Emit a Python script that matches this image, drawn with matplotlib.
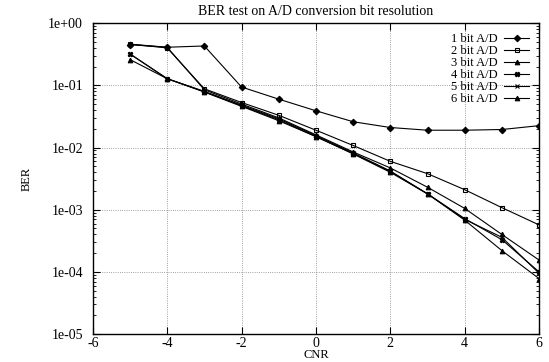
import math
import matplotlib
matplotlib.use('Agg')
import matplotlib.pyplot as plt
from matplotlib.ticker import LogLocator, FuncFormatter, NullFormatter, MultipleLocator

plt.rcParams['font.family'] = ['Liberation Serif', 'DejaVu Serif']

cnr = [-5, -4, -3, -2, -1, 0, 1, 2, 3, 4, 5, 6]
ber_1bit = [0.45, 0.41, 0.43, 0.094, 0.060, 0.039, 0.026, 0.021, 0.019, 0.019, 0.0195, 0.0225]
ber_2bit = [0.46, 0.40, 0.088, 0.053, 0.033, 0.019, 0.0108, 0.0060, 0.0038, 0.0021, 0.00108, 0.00057]
ber_3bit = [0.46, 0.41, 0.085, 0.050, 0.030, 0.016, 0.0085, 0.0047, 0.0023, 0.00105, 0.00040, 0.000155]
ber_4bit = [0.32, 0.128, 0.080, 0.048, 0.029, 0.0155, 0.0082, 0.0042, 0.0018, 0.00072, 0.00033, 0.000100]
ber_5bit = [0.32, 0.128, 0.079, 0.047, 0.028, 0.0150, 0.0080, 0.0041, 0.0018, 0.00070, 0.00036, 0.000095]
ber_6bit = [0.26, 0.128, 0.078, 0.046, 0.027, 0.0150, 0.0079, 0.0040, 0.0018, 0.00068, 0.00022, 0.000078]

series = [
    ('1 bit A/D', ber_1bit, 'D', 'black'),
    ('2 bit A/D', ber_2bit, 's', 'none'),
    ('3 bit A/D', ber_3bit, '^', 'black'),
    ('4 bit A/D', ber_4bit, 'X', 'black'),
    ('5 bit A/D', ber_5bit, 'x', 'black'),
    ('6 bit A/D', ber_6bit, '^', 'black'),
]

fig = plt.figure(figsize=(5.49, 3.62), dpi=100)
ax = fig.add_axes([0.169, 0.077, 0.813, 0.859])

for label, vals, mk, fc in series:
    ax.plot(cnr, vals, color='black', lw=0.8, marker=mk, markersize=3.3,
            markerfacecolor=fc, markeredgecolor='black', markeredgewidth=0.8, label=label)

ax.set_yscale('log')
ax.set_xlim(-6, 6)
ax.set_ylim(1e-5, 1)
ax.xaxis.set_major_locator(MultipleLocator(2))
ax.yaxis.set_major_locator(LogLocator(base=10, numticks=10))
ax.yaxis.set_minor_locator(LogLocator(base=10, subs=range(2, 10), numticks=20))
ax.yaxis.set_minor_formatter(NullFormatter())
ax.yaxis.set_major_formatter(FuncFormatter(lambda v, p: '1e%+03d' % round(math.log10(v))))
ax.xaxis.set_major_formatter(FuncFormatter(lambda v, p: '%d' % v))

ax.tick_params(which='both', direction='in', top=True, right=True, labelsize=10)
ax.tick_params(which='major', length=5, width=0.8)
ax.tick_params(which='minor', length=2.5, width=0.6)
ax.tick_params(axis='x', pad=2)
ax.tick_params(axis='y', pad=7)
ax.grid(True, which='major', linestyle=':', color='gray', lw=0.6)
for s in ax.spines.values():
    s.set_linewidth(1.0)

ax.set_title('BER test on A/D conversion bit resolution', fontsize=10, pad=6)
ax.set_xlabel('CNR', fontsize=9, labelpad=-1)
ax.set_ylabel('BER', fontsize=9, labelpad=11)

ax.legend(loc='upper right', frameon=False, markerfirst=False, fontsize=9,
          handlelength=2.0, labelspacing=0.0, borderaxespad=0.4, handletextpad=0.5)

fig.savefig('out.png', dpi=100)
